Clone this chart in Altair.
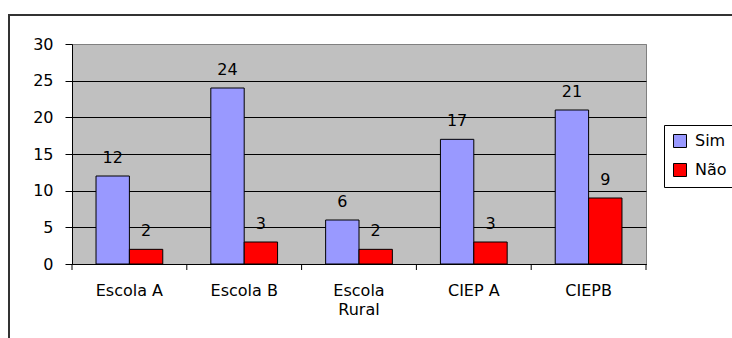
import altair as alt
import pandas as pd

# Survey answers per school
schools = ["Escola A", "Escola B", "Escola Rural", "CIEP A", "CIEPB"]
sim = [12, 24, 6, 17, 21]
nao = [2, 3, 2, 3, 9]
answers = ["Sim", "Não"]
colors = ["#9999FF", "#FF0000"]
y_ticks = [0, 5, 10, 15, 20, 25, 30]

rows = []
for s, a, b in zip(schools, sim, nao):
    rows.append({"escola": s, "resposta": "Sim", "valor": a})
    rows.append({"escola": s, "resposta": "Não", "valor": b})
df = pd.DataFrame(rows)

FONT = "DejaVu Sans"
FS = 16
W, H = 574, 220

x_scale = alt.Scale(domain=schools, paddingInner=0, paddingOuter=0)
off_scale = alt.Scale(domain=answers, paddingInner=0, paddingOuter=0.72)
y_scale = alt.Scale(domain=[0, 30], nice=False)

x_axis = alt.Axis(
    ticks=False,
    domainColor="black",
    labelAngle=0,
    labelFont=FONT,
    labelFontSize=FS,
    labelColor="black",
    labelPadding=18,
    labelLineHeight=19,
    labelExpr="datum.label == 'Escola Rural' ? split(datum.label, ' ') : datum.label",
)
y_axis = alt.Axis(
    values=y_ticks,
    labelOverlap=False,
    grid=True,
    gridColor=alt.condition("datum.value == 30", alt.value("#808080"), alt.value("black")),
    gridWidth=1,
    domainColor="black",
    tickColor="black",
    tickSize=7,
    labelFont=FONT,
    labelFontSize=FS,
    labelColor="black",
    labelPadding=12,
)

base = alt.Chart(df).encode(
    x=alt.X("escola:N", scale=x_scale, title=None, axis=x_axis),
    xOffset=alt.XOffset("resposta:N", scale=off_scale),
    y=alt.Y("valor:Q", scale=y_scale, title=None, axis=y_axis),
)

bars = base.mark_bar(stroke="black", strokeWidth=1).encode(
    color=alt.Color(
        "resposta:N",
        scale=alt.Scale(domain=answers, range=colors),
        legend=alt.Legend(
            title=None,
            orient="none",
            legendX=592,
            legendY=81,
            padding=8,
            strokeColor="black",
            fillColor="white",
            symbolType="square",
            symbolSize=169,
            symbolStrokeColor="black",
            symbolStrokeWidth=1,
            symbolOpacity=1,
            labelFont=FONT,
            labelFontSize=FS,
            labelColor="black",
            labelOffset=7,
            rowPadding=11,
        ),
    ),
)

labels = base.mark_text(
    baseline="alphabetic", dy=-13, font=FONT, fontSize=FS, color="black"
).encode(text="valor:Q")

# Category separator ticks below the x axis
ticks = alt.Chart(pd.DataFrame({"escola": schools})).mark_rule(color="black").encode(
    x=alt.X("escola:N", scale=x_scale, title=None, axis=x_axis, bandPosition=0),
    y=alt.value(H),
    y2=alt.value(H + 6),
)
end_tick = alt.Chart(pd.DataFrame({"k": [0]})).mark_rule(color="black").encode(
    x=alt.value(W), y=alt.value(H), y2=alt.value(H + 6)
)

# Outer chart frame
frame = alt.Chart(pd.DataFrame({"k": [0]})).mark_rect(
    filled=False, stroke="#333333", strokeWidth=2
).encode(
    x=alt.value(-63), x2=alt.value(W + 200), y=alt.value(-29), y2=alt.value(H + 200)
)

chart = (
    alt.layer(frame, bars, labels, ticks, end_tick)
    .properties(
        width=W,
        height=H,
        autosize="none",
        padding={"left": 72, "top": 44, "right": 86, "bottom": 74},
        background="white",
    )
    .configure_view(fill="#C0C0C0", stroke="#808080", strokeWidth=1)
)

chart.save("out.html", embed_options={"renderer": "svg", "actions": False})
